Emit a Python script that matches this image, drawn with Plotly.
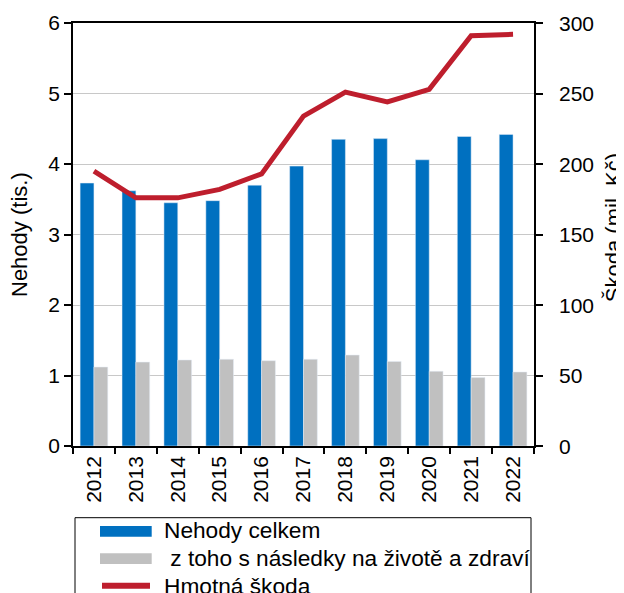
import plotly.graph_objects as go

years = ["2012", "2013", "2014", "2015", "2016", "2017", "2018", "2019", "2020", "2021", "2022"]
nehody_celkem = [3.73, 3.62, 3.45, 3.48, 3.70, 3.97, 4.35, 4.36, 4.06, 4.39, 4.42]
nasledky_zdravi = [1.12, 1.19, 1.22, 1.23, 1.21, 1.23, 1.29, 1.20, 1.06, 0.97, 1.05]
hmotna_skoda = [195, 176, 176, 182, 193, 234, 251, 244, 253, 291, 292]
skoda_ticks = [0, 50, 100, 150, 200, 250, 300]

names = ["Nehody celkem", " z toho s následky na životě a zdraví", "Hmotná škoda"]
BLUE = "#0070C0"
GRAY = "#C0C0C0"
RED = "#BE1E2D"
FONT = "Liberation Sans, Arial, sans-serif"
FS = 21
FS_TITLE = 22
FS_LEG = 22.7

# figure geometry (page body adds 8px offset)
W, H = 616, 585
ML, MR, MT, MB = 65, 90, 15, 147
PLOT_W, PLOT_H = W - ML - MR, H - MT - MB

fig = go.Figure()
fig.add_trace(go.Bar(x=years, y=nehody_celkem, name=names[0], marker_color=BLUE,
                     showlegend=False))
fig.add_trace(go.Bar(x=years, y=nasledky_zdravi, name=names[1], marker_color=GRAY,
                     showlegend=False))
fig.add_trace(go.Scatter(x=years, y=hmotna_skoda, name=names[2], mode="lines",
                         line=dict(color=RED, width=5), yaxis="y2", showlegend=False))

fig.update_layout(
    width=W, height=H,
    margin=dict(l=ML, r=MR, t=MT, b=MB, autoexpand=False),
    paper_bgcolor="white", plot_bgcolor="white",
    font=dict(family=FONT, size=FS, color="black"),
    barmode="group", bargap=0.34, bargroupgap=0,
    xaxis=dict(
        type="category", tickson="boundaries", ticks="outside", ticklen=6,
        tickcolor="black", tickwidth=1.5, tickangle=-90,
        showline=True, linecolor="black", linewidth=1.5, mirror=True,
        showgrid=False, automargin=False,
    ),
    yaxis=dict(
        range=[0, 6], dtick=1, ticks="outside", ticklen=7, tickcolor="black",
        tickwidth=1.5, showline=True, linecolor="black", linewidth=1.5,
        showgrid=True, gridcolor="#C8C8C8", gridwidth=1, zeroline=False,
        automargin=False,
    ),
    yaxis2=dict(
        range=[0, 300], tickvals=skoda_ticks, overlaying="y", side="right", anchor="x",
        ticks="outside", ticklen=7, tickcolor="black", tickwidth=1.5,
        showline=True, linecolor="black", linewidth=1.5, showgrid=False,
        zeroline=False, showticklabels=False, automargin=False,
    ),
)

# right-axis tick labels placed on the y2 scale
for v in skoda_ticks:
    fig.add_annotation(text=str(v), xref="paper", yref="y2",
                       x=(557 - 8 - ML) / PLOT_W, y=v, xanchor="left", yanchor="middle",
                       showarrow=False, font=dict(family=FONT, size=FS))

# Axis titles
fig.add_annotation(text="Nehody (tis.)", xref="paper", yref="paper",
                   x=(11.5 - ML) / PLOT_W, y=0.5, xanchor="center", yanchor="middle",
                   textangle=-90, showarrow=False, font=dict(family=FONT, size=FS_TITLE))
fig.add_annotation(text="Škoda (mil. Kč)", xref="paper", yref="paper",
                   x=(605 - ML) / PLOT_W, y=0.515, xanchor="center", yanchor="middle",
                   textangle=-90, showarrow=False, font=dict(family=FONT, size=FS_TITLE))

# Manual legend (paper coordinates; inputs are window pixels)
def px(xw):
    return (xw - 8 - ML) / PLOT_W

def py(yw):
    return (H - MB - (yw - 8)) / PLOT_H

shapes = [
    dict(type="rect", xref="paper", yref="paper", x0=px(75), x1=px(531), y0=py(640), y1=py(517.7),
         line=dict(color="black", width=1), fillcolor="rgba(0,0,0,0)"),
    dict(type="rect", xref="paper", yref="paper", x0=px(100), x1=px(151.7), y0=py(536.7), y1=py(526),
         line=dict(width=0), fillcolor=BLUE),
    dict(type="rect", xref="paper", yref="paper", x0=px(100), x1=px(151.7), y0=py(564), y1=py(553.3),
         line=dict(width=0), fillcolor=GRAY),
    dict(type="line", xref="paper", yref="paper", x0=px(102), x1=px(150), y0=py(585.7), y1=py(585.7),
         line=dict(color=RED, width=6)),
]
fig.update_layout(shapes=shapes)
ys = [530, 558, 585.7]
for nm, yy in zip(names, ys):
    fig.add_annotation(text=nm, xref="paper", yref="paper", x=px(162), y=py(yy),
                       xanchor="left", yanchor="middle", showarrow=False,
                       font=dict(family=FONT, size=FS_LEG, color="black"))

fig.write_html("out.html")
